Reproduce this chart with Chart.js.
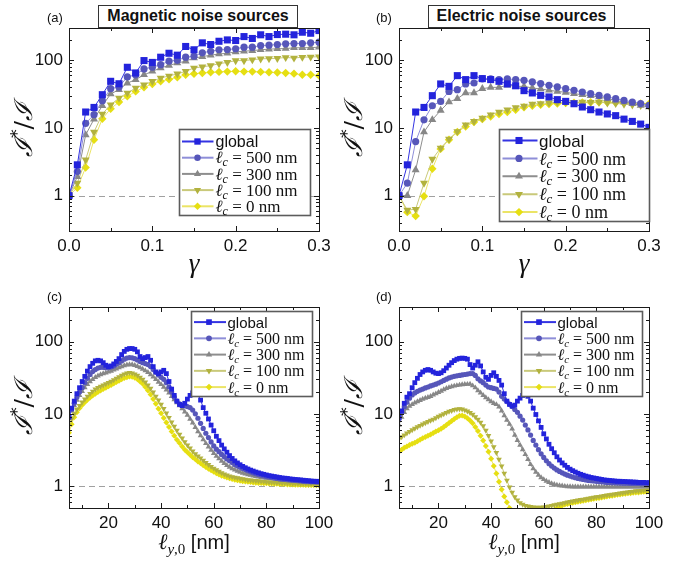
<!DOCTYPE html>
<html>
<head>
<meta charset="utf-8">
<script src="https://cdn.jsdelivr.net/npm/chart.js@4.4.0/dist/chart.umd.min.js"></script>
<style>
  body { margin:0; background:#fff; }
  #wrap { position:relative; width:691px; height:561px; overflow:hidden; background:#fff;
          font-family:'Liberation Sans', Arial, sans-serif; color:#111; }
  canvas { position:absolute; }
  .tag { position:absolute; font-size:13px; line-height:15px; }
  .head { position:absolute; top:5px; height:23px; box-sizing:border-box; border:1.5px solid #333;
          background:#fff; font-weight:bold; font-size:16px; line-height:20px; text-align:center; white-space:nowrap; }
</style>
</head>
<body>
<div id="wrap">
  <canvas id="pa" width="340" height="280" style="left:0;top:0"></canvas>
  <canvas id="pb" width="340" height="280" style="left:330px;top:0"></canvas>
  <canvas id="pc" width="340" height="281" style="left:0;top:280px"></canvas>
  <canvas id="pd" width="340" height="281" style="left:330px;top:280px"></canvas>
  <div class="tag" style="left:47px;top:10px">(a)</div>
  <div class="tag" style="left:376px;top:10px">(b)</div>
  <div class="tag" style="left:47px;top:289px">(c)</div>
  <div class="tag" style="left:376px;top:289px">(d)</div>
  <div class="head" style="left:98px;width:200px">Magnetic noise sources</div>
  <div class="head" style="left:428px;width:187px">Electric noise sources</div>
</div>
<script>
// ---- data ----
const legendLabels = ['global', '500 nm', '300 nm', '100 nm', '0 nm'];

const gammaX = [0, 0.01, 0.02, 0.03, 0.04, 0.05, 0.06, 0.07, 0.08, 0.09, 0.10,
  0.11, 0.12, 0.13, 0.14, 0.15, 0.16, 0.17, 0.18, 0.19, 0.20,
  0.21, 0.22, 0.23, 0.24, 0.25, 0.26, 0.27, 0.28, 0.29, 0.30];

// (a) magnetic, vs gamma
const aGlobal = [1, 2.85, 17.2, 20.1, 31, 48.9, 45, 78.8, 65, 99, 93, 111, 127, 119, 160, 143, 181, 171, 191, 200, 196, 224, 210, 238, 224, 240, 243, 238, 260, 251, 275];
const a500 = [1, 2.27, 11.7, 15.7, 25.3, 38, 40.4, 56.8, 61, 74.6, 79, 86, 97, 100, 111, 115, 129, 136, 143, 144, 148, 156, 156, 165, 167, 171, 175, 177, 177, 181, 185];
const a300 = [1, 1.91, 7.9, 13.5, 21.3, 31.8, 36.8, 46, 51.8, 61, 68.7, 77, 84, 91, 97, 108, 113, 119, 124, 127, 133, 136, 139, 143, 146, 148, 149, 153, 153, 154, 156];
const a100 = [1, 1.53, 3.38, 8.7, 16.1, 22, 27.7, 32.9, 39, 43.6, 48.9, 54.8, 58.7, 62.9, 68.7, 77, 80, 83.5, 89, 93, 99, 99, 102, 105, 106, 107, 110, 108, 111, 112, 113];
const a0 = [1, 1.31, 2.6, 6.7, 13.7, 19.2, 24.2, 29.3, 34.7, 39.8, 44.7, 48.9, 52.3, 56, 61, 63, 65, 66.4, 67.3, 68, 68.7, 68, 68, 67.3, 66.4, 66, 65, 63.5, 61, 61, 59.3];

// (b) electric, vs gamma
const bGlobal = [1, 2.85, 17.2, 20.1, 30, 44.7, 41.2, 59.3, 51.8, 59.3, 53.6, 51.8, 48.9, 44.7, 42, 35.6, 32.9, 30.3, 28.7, 26.2, 24.7, 22.8, 20.4, 18.6, 17.2, 16.1, 15.2, 13.5, 12.5, 11.4, 10.2];
const b500 = [1, 1.53, 6.3, 13.2, 21.3, 24.7, 34.7, 36.8, 44.7, 46.2, 53, 53, 51.8, 53, 51.8, 50.6, 47.9, 45.2, 42.7, 40.4, 38, 36, 34, 32.1, 30.3, 28.7, 27.1, 25.5, 24.2, 22.9, 21.5];
const b300 = [1, 1.0, 2.4, 8.7, 13.2, 18.2, 24.2, 27.1, 32.9, 32.9, 38, 39.8, 39.8, 42.7, 41.2, 41.2, 39, 37.7, 36, 34.7, 33.6, 32.1, 31, 30, 28.7, 27.1, 25.5, 24.2, 22.9, 21.5, 20.4];
const b100 = [1, 0.61, 0.63, 1.53, 3.46, 5.04, 6.85, 8.87, 11.1, 12.5, 14, 15.7, 17.2, 18.6, 20.1, 21, 22.5, 23, 23.5, 24, 24, 24, 24.2, 24, 24, 23.5, 23, 22.5, 22, 21.5, 21];
const b0 = [1, 0.57, 0.5, 0.98, 2.49, 4.9, 6.7, 8.7, 10.5, 12.2, 13.5, 14.8, 16.1, 17.2, 18.6, 20.2, 21.3, 22, 22.6, 23, 23.4, 23.6, 23.8, 24, 24, 24, 23.8, 23.5, 23.2, 23, 22.7];

const ellX = [5, 6, 7, 8, 9, 10, 11, 12, 13, 14,
  15, 16, 17, 18, 19, 20, 21, 22, 23, 24,
  25, 26, 27, 28, 29, 30, 31, 32, 33, 34,
  35, 36, 37, 38, 39, 40, 41, 42, 43, 44,
  45, 46, 47, 48, 49, 50, 51, 52, 53, 54,
  55, 56, 57, 58, 59, 60, 61, 62, 63, 64,
  65, 66, 67, 68, 69, 70, 71, 72, 73, 74,
  75, 76, 77, 78, 79, 80, 81, 82, 83, 84,
  85, 86, 87, 88, 89, 90, 91, 92, 93, 94,
  95, 96, 97, 98, 99, 100];

// (c) magnetic, vs l_y0
const cGlobal = [9, 12, 15, 19, 23, 28, 33, 39, 45, 50,
  54, 55, 54, 51, 47, 45, 46, 49, 53, 58,
  66, 73, 78, 80, 80, 78, 72, 62, 58, 60,
  62, 55, 45, 38, 36, 38, 40, 36, 28, 22,
  18, 15, 13.5, 13, 14, 16, 18, 19.5, 20, 18.5,
  15.5, 12.2, 10.2, 8.5, 7, 5.85, 4.9, 4.27, 3.7, 3.28,
  2.95, 2.65, 2.42, 2.24, 2.1, 1.98, 1.88, 1.8, 1.73, 1.67,
  1.62, 1.57, 1.53, 1.49, 1.46, 1.43, 1.4, 1.38, 1.36, 1.34,
  1.32, 1.3, 1.29, 1.28, 1.26, 1.25, 1.24, 1.23, 1.22, 1.21,
  1.2, 1.19, 1.18, 1.17, 1.17, 1.16];
const c500 = [9, 11.5, 14, 17, 20, 23, 27, 31, 35, 38.5,
  41, 43, 44, 44, 43.5, 43.5, 44.5, 46, 48.5, 51,
  54, 57, 59, 60, 59.5, 58, 55.5, 53, 51, 49.5,
  48, 45, 41, 37.5, 34.5, 32, 30, 27, 23.5, 20,
  17, 15, 13.8, 13.2, 12.9, 12.6, 12.2, 11.3, 10, 8.7,
  7.4, 6.3, 5.4, 4.7, 4.1, 3.6, 3.25, 3.0, 2.75, 2.55,
  2.38, 2.25, 2.12, 2.0, 1.91, 1.83, 1.76, 1.7, 1.64, 1.58,
  1.53, 1.49, 1.45, 1.42, 1.39, 1.36, 1.34, 1.32, 1.3, 1.28,
  1.26, 1.25, 1.24, 1.23, 1.22, 1.21, 1.2, 1.19, 1.18, 1.17,
  1.16, 1.16, 1.15, 1.15, 1.14, 1.14];
const c300 = [9, 11, 13, 15.5, 18, 20.5, 23, 25.5, 28, 30,
  32, 33.5, 35, 36, 37, 38, 39, 40.5, 42, 43.5,
  45, 46.5, 47.5, 48, 48, 47, 45.5, 43.5, 41.5, 39.5,
  37.5, 35, 32.5, 30, 27.5, 25.5, 23.5, 21.5, 19.5, 17.5,
  15.8, 14.3, 13, 11.8, 10.7, 9.6, 8.5, 7.5, 6.5, 5.7,
  5.0, 4.4, 3.9, 3.5, 3.15, 2.85, 2.6, 2.4, 2.22, 2.07,
  1.95, 1.84, 1.75, 1.68, 1.62, 1.57, 1.52, 1.48, 1.45, 1.42,
  1.39, 1.37, 1.35, 1.33, 1.31, 1.3, 1.28, 1.27, 1.26, 1.25,
  1.24, 1.23, 1.22, 1.21, 1.2, 1.2, 1.19, 1.18, 1.18, 1.17,
  1.16, 1.16, 1.15, 1.15, 1.14, 1.14];
const c100 = [7, 8.5, 10, 11.5, 13, 14.5, 16, 17.5, 19, 20.5,
  22, 23, 24, 25, 26, 27, 28, 29.5, 31, 32.5,
  34, 35.5, 36.5, 37, 36.5, 35.5, 34, 32, 30, 27.5,
  25, 22.5, 20, 17.5, 15.5, 13.5, 11.8, 10.2, 8.9, 7.7,
  6.7, 5.9, 5.2, 4.6, 4.1, 3.7, 3.35, 3.05, 2.8, 2.6,
  2.45, 2.27, 2.12, 1.98, 1.87, 1.77, 1.68, 1.6, 1.53, 1.47,
  1.42, 1.38, 1.35, 1.32, 1.3, 1.28, 1.26, 1.24, 1.22, 1.21,
  1.2, 1.19, 1.18, 1.17, 1.16, 1.15, 1.14, 1.14, 1.13, 1.12,
  1.12, 1.11, 1.11, 1.1, 1.1, 1.09, 1.09, 1.09, 1.08, 1.08,
  1.08, 1.07, 1.07, 1.07, 1.06, 1.06];
const c0 = [5.5, 7.2, 9, 10.5, 12, 13.3, 14.5, 15.7, 16.8, 18,
  19, 20, 21, 22, 23, 24, 25, 26.2, 27.5, 28.8,
  30, 31.2, 32.2, 32.8, 32.5, 31.5, 30, 28, 26, 23.5,
  21, 18.5, 16, 13.8, 11.8, 10.2, 8.8, 7.6, 6.6, 5.7,
  5.0, 4.4, 3.95, 3.55, 3.2, 2.95, 2.72, 2.52, 2.35, 2.2,
  2.07, 1.95, 1.84, 1.74, 1.66, 1.58, 1.51, 1.45, 1.4, 1.36,
  1.32, 1.29, 1.26, 1.23, 1.21, 1.19, 1.17, 1.16, 1.15, 1.14,
  1.13, 1.12, 1.11, 1.11, 1.1, 1.1, 1.09, 1.09, 1.08, 1.08,
  1.07, 1.07, 1.07, 1.06, 1.06, 1.06, 1.05, 1.05, 1.05, 1.05,
  1.04, 1.04, 1.04, 1.04, 1.03, 1.03];

// (d) electric, vs l_y0
const dGlobal = [9, 11, 14, 17, 19, 23, 27, 31, 35, 38,
  40, 41, 40, 38, 36.5, 36, 37, 39.5, 43, 47,
  51, 54.5, 57, 58.5, 59, 58.5, 57, 48, 43, 47,
  52.5, 46, 38, 32, 30, 34, 37, 33, 29, 25,
  19, 15, 13.5, 12.8, 13.2, 15, 16.5, 18, 18.8, 17.5,
  15, 12, 9.8, 8, 6.5, 5.3, 4.5, 3.8, 3.3, 2.9,
  2.55, 2.3, 2.1, 1.95, 1.82, 1.72, 1.64, 1.57, 1.51, 1.46,
  1.42, 1.38, 1.35, 1.32, 1.3, 1.28, 1.26, 1.24, 1.22, 1.21,
  1.2, 1.19, 1.18, 1.17, 1.17, 1.16, 1.16, 1.15, 1.15, 1.14,
  1.14, 1.13, 1.13, 1.13, 1.12, 1.12];
const d500 = [8.5, 10.5, 12.5, 14.5, 16.5, 18.3, 19.5, 20.5, 21.3, 22,
  22.8, 23.5, 24.3, 25, 25.7, 26.7, 27.8, 29, 30.2, 31.4,
  32.3, 33, 33.6, 34, 34.5, 35, 35.5, 36, 36, 34,
  30.5, 28.5, 27, 25, 23.5, 23, 22.5, 22, 20, 17.5,
  16, 14.8, 13.7, 12.6, 11.5, 10.5, 9.3, 8.2, 7, 6,
  5.1, 4.3, 3.7, 3.2, 2.8, 2.5, 2.25, 2.05, 1.9, 1.78,
  1.68, 1.6, 1.53, 1.47, 1.42, 1.38, 1.34, 1.31, 1.28, 1.26,
  1.24, 1.22, 1.2, 1.19, 1.18, 1.17, 1.16, 1.15, 1.14, 1.13,
  1.13, 1.12, 1.12, 1.11, 1.11, 1.1, 1.1, 1.1, 1.09, 1.09,
  1.09, 1.09, 1.08, 1.08, 1.08, 1.08];
const d300 = [7, 9, 10.5, 11.8, 12.8, 13.5, 14.2, 14.8, 15.4, 16,
  16.5, 16.9, 17.5, 18.3, 19, 19.8, 20.7, 21.6, 22.5, 23.2,
  23.8, 24.3, 24.7, 25.1, 25.4, 25.6, 25.7, 25.8, 24.5, 23,
  21, 19.5, 18, 16.8, 15.8, 14.8, 14, 13.5, 12.5, 11,
  9.5, 8.2, 7.2, 6.2, 5.1, 4.3, 3.7, 3.2, 2.75, 2.35,
  2.0, 1.75, 1.57, 1.43, 1.32, 1.24, 1.18, 1.13, 1.09, 1.06,
  1.04, 1.02, 1.01, 1.0, 0.99, 0.99, 0.98, 0.98, 0.98, 0.98,
  0.98, 0.98, 0.98, 0.98, 0.98, 0.98, 0.98, 0.98, 0.98, 0.98,
  0.98, 0.98, 0.98, 0.98, 0.98, 0.98, 0.98, 0.98, 0.98, 0.98,
  0.98, 0.98, 0.98, 0.99, 0.99, 0.99];
const d100 = [4.5, 4.8, 5.1, 5.4, 5.7, 6.0, 6.3, 6.6, 6.9, 7.2,
  7.5, 7.8, 8.1, 8.4, 8.8, 9.2, 9.6, 10, 10.4, 10.8,
  11.1, 11.4, 11.6, 11.7, 11.6, 11.3, 10.9, 10.4, 9.8, 9.1,
  8.4, 7.6, 6.8, 5.9, 5.0, 4.2, 3.5, 2.9, 2.35, 1.9,
  1.5, 1.2, 0.97, 0.82, 0.71, 0.64, 0.59, 0.56, 0.54, 0.53,
  0.52, 0.515, 0.51, 0.51, 0.51, 0.515, 0.52, 0.53, 0.54, 0.55,
  0.56, 0.57, 0.58, 0.59, 0.6, 0.61, 0.62, 0.63, 0.64, 0.65,
  0.66, 0.67, 0.68, 0.69, 0.7, 0.71, 0.72, 0.73, 0.74, 0.75,
  0.76, 0.77, 0.78, 0.79, 0.8, 0.81, 0.82, 0.83, 0.84, 0.85,
  0.86, 0.86, 0.87, 0.88, 0.88, 0.89];
const d0 = [3.0, 3.2, 3.4, 3.55, 3.7, 3.85, 4.0, 4.2, 4.4, 4.6,
  4.8, 5.0, 5.2, 5.45, 5.7, 5.95, 6.25, 6.6, 7.0, 7.5,
  8.0, 8.5, 9.0, 9.4, 9.5, 9.2, 8.7, 8.1, 7.4, 6.6,
  5.8, 5.0, 4.3, 3.6, 3.0, 2.4, 1.9, 1.5, 1.15, 0.9,
  0.72, 0.6, 0.5, 0.44, 0.4, 0.37, 0.35, 0.34, 0.33, 0.33,
  0.33, 0.33, 0.34, 0.35, 0.36, 0.37, 0.39, 0.41, 0.44, 0.47,
  0.5, 0.52, 0.54, 0.56, 0.57, 0.58, 0.59, 0.6, 0.61, 0.62,
  0.63, 0.64, 0.65, 0.66, 0.67, 0.68, 0.69, 0.7, 0.71, 0.72,
  0.73, 0.74, 0.75, 0.76, 0.77, 0.78, 0.79, 0.8, 0.8, 0.81,
  0.82, 0.82, 0.83, 0.84, 0.84, 0.85];

// tick positions
const gammaMajor = [0, 0.1, 0.2, 0.3];
const gammaMinor = [0.05, 0.15, 0.25];
const ellMajor = [20, 40, 60, 80, 100];
const ellMinor = [10, 30, 50, 70, 90];
const yMajor = [1, 10, 100];
const yMinor = [0.3, 0.4, 0.5, 0.6, 0.7, 0.8, 0.9, 2, 3, 4, 5, 6, 7, 8, 9,
  20, 30, 40, 50, 60, 70, 80, 90, 200];

// ---- styles ----
const STY = [
  { ps: 'rect',     rot: 0,   pc: '#2323dc', lc: '#3434e2', rb: 5.0, rs: 3.4 },
  { ps: 'circle',   rot: 0,   pc: '#5656ba', lc: '#8e8ed8', rb: 3.6, rs: 2.6 },
  { ps: 'triangle', rot: 0,   pc: '#878787', lc: '#8e8e8e', rb: 4.6, rs: 3.3 },
  { ps: 'triangle', rot: 180, pc: '#b2b23e', lc: '#c9c97a', rb: 4.6, rs: 3.3 },
  { ps: 'rectRot',  rot: 0,   pc: '#e6df12', lc: '#ebe466', rb: 4.2, rs: 3.0 }
];
const SANS = "'Liberation Sans', Arial, sans-serif";

function mark(ctx, ps, rot, x, y, r, color) {
  ctx.fillStyle = color;
  ctx.beginPath();
  if (ps === 'rect') {
    const s = r * Math.SQRT1_2;
    ctx.rect(x - s, y - s, 2 * s, 2 * s);
  } else if (ps === 'circle') {
    ctx.arc(x, y, r, 0, Math.PI * 2);
  } else if (ps === 'rectRot') {
    ctx.moveTo(x, y - r); ctx.lineTo(x + r, y); ctx.lineTo(x, y + r); ctx.lineTo(x - r, y);
  } else {
    let a = rot * Math.PI / 180;
    for (let k = 0; k < 3; k++) {
      const px = x + Math.sin(a) * r, py = y - Math.cos(a) * r;
      k ? ctx.lineTo(px, py) : ctx.moveTo(px, py);
      a += 2 * Math.PI / 3;
    }
  }
  ctx.closePath();
  ctx.fill();
}

function drawRuns(ctx, runs, x, y, align) {
  let w = 0;
  runs.forEach(r => { ctx.font = r[1]; w += ctx.measureText(r[0]).width; });
  let cx = align === 'center' ? x - w / 2 : x;
  ctx.textAlign = 'left';
  ctx.textBaseline = 'alphabetic';
  runs.forEach(r => {
    ctx.font = r[1];
    ctx.fillText(r[0], cx, y + (r[2] || 0));
    cx += ctx.measureText(r[0]).width;
  });
}

const deco = {
  id: 'deco',
  beforeDatasetsDraw(chart, args, o) {
    const { ctx, chartArea: a, scales: { y } } = chart;
    const py = Math.round(y.getPixelForValue(1)) + 0.5;
    ctx.save();
    ctx.strokeStyle = '#a0a0a0';
    ctx.lineWidth = 1.2;
    ctx.setLineDash([6, 4]);
    ctx.beginPath(); ctx.moveTo(a.left, py); ctx.lineTo(a.right, py); ctx.stroke();
    ctx.restore();
  },
  afterDatasetsDraw(chart, args, o) {
    const { ctx, chartArea: a, scales: { x, y } } = chart;
    ctx.save();
    // frame
    ctx.strokeStyle = '#1a1a1a';
    ctx.lineWidth = 1;
    ctx.strokeRect(Math.round(a.left) + 0.5, Math.round(a.top) + 0.5,
      Math.round(a.right - a.left), Math.round(a.bottom - a.top));
    // inward ticks on all four sides
    ctx.beginPath();
    const xt = (vals, len) => vals.forEach(v => {
      const p = Math.round(x.getPixelForValue(v)) + 0.5;
      ctx.moveTo(p, a.bottom); ctx.lineTo(p, a.bottom - len);
      ctx.moveTo(p, a.top); ctx.lineTo(p, a.top + len);
    });
    const yt = (vals, len) => vals.filter(v => v > y.min && v < y.max).forEach(v => {
      const p = Math.round(y.getPixelForValue(v)) + 0.5;
      ctx.moveTo(a.left, p); ctx.lineTo(a.left + len, p);
      ctx.moveTo(a.right, p); ctx.lineTo(a.right - len, p);
    });
    xt(o.xMajor, 5); xt(o.xMinor, 3);
    yt(yMajor, 5); yt(yMinor, 3);
    ctx.stroke();

    // legend
    const lg = o.legend;
    const bx = Math.round(a.left + lg.x) + 0.5, by = Math.round(a.top + lg.y) + 0.5;
    ctx.fillStyle = '#fff';
    ctx.fillRect(bx, by, lg.w, lg.h);
    ctx.strokeStyle = '#5c5c5c';
    ctx.lineWidth = 1.6;
    ctx.strokeRect(bx, by, lg.w, lg.h);
    chart.data.datasets.forEach((ds, i) => {
      const yy = by + lg.row0 + i * lg.step;
      ctx.strokeStyle = ds.borderColor;
      ctx.lineWidth = 2;
      ctx.beginPath(); ctx.moveTo(bx + lg.l0, yy); ctx.lineTo(bx + lg.l1, yy); ctx.stroke();
      mark(ctx, ds.pointStyle, ds.pointRotation, bx + lg.m, yy, STY[i].rb * lg.ms, ds.pointBackgroundColor);
      ctx.fillStyle = '#111';
      const fs = lg.fs;
      const runs = i === 0
        ? [[legendLabels[0], fs + 'px ' + SANS, 0]]
        : [['\u2113', 'italic ' + (fs + 1) + "px 'DejaVu Serif', serif", 0],
           ['c', 'italic ' + (fs - 4) + "px 'Liberation Serif', serif", 3],
           [' = ' + legendLabels[i], (fs + 1) + "px 'Liberation Serif', serif", 0]];
      drawRuns(ctx, runs, bx + lg.t, yy + fs * 0.36, 'left');
    });

    // y axis title
    ctx.fillStyle = '#111';
    ctx.save();
    ctx.translate(a.left - 45, (a.top + a.bottom) / 2);
    ctx.rotate(-Math.PI / 2);
    drawRuns(ctx, [
      ['\u2110', "italic 25px 'DejaVu Serif', serif", 0],
      ['*', "17px 'DejaVu Serif', serif", -9],
      ['/', "25px 'DejaVu Serif', serif", 0],
      ['\u2110', "italic 25px 'DejaVu Serif', serif", 0]
    ], 0, 8, 'center');
    ctx.restore();

    // x axis title
    const cx = (a.left + a.right) / 2;
    if (o.xTitle === 'gamma') {
      drawRuns(ctx, [['\u03b3', "italic 27px 'Liberation Serif', serif", 0]], cx, o.xTitleY, 'center');
    } else {
      drawRuns(ctx, [
        ['\u2113', "italic 22px 'DejaVu Serif', serif", 0],
        ['y', "italic 15px 'Liberation Serif', serif", 5],
        [',0', "15px 'Liberation Serif', serif", 5],
        [' [nm]', '20px ' + SANS, 0]
      ], cx, o.xTitleY, 'center');
    }
    ctx.restore();
  }
};

function panel(id, xs, ys, o) {
  const big = o.big;
  const datasets = ys.map((arr, i) => ({
    label: legendLabels[i],
    data: arr.map((v, j) => ({ x: xs[j], y: v })),
    borderColor: STY[i].lc,
    backgroundColor: STY[i].pc,
    borderWidth: 1,
    pointStyle: STY[i].ps,
    pointRotation: STY[i].rot,
    pointRadius: big ? STY[i].rb : STY[i].rs,
    pointBackgroundColor: STY[i].pc,
    pointBorderColor: STY[i].pc,
    pointBorderWidth: 0,
    tension: 0,
    fill: false
  }));
  const tickFont = { family: SANS, size: 17 };
  new Chart(document.getElementById(id), {
    type: 'line',
    data: { datasets },
    options: {
      responsive: false,
      animation: false,
      devicePixelRatio: 1,
      layout: { padding: { left: 0, top: o.padTop, right: 21, bottom: 0 } },
      plugins: {
        legend: { display: false },
        tooltip: { enabled: false },
        deco: o.deco
      },
      scales: {
        x: {
          type: 'linear', min: o.xMin, max: o.xMax, bounds: 'data',
          grid: { display: false, drawTicks: false },
          border: { display: false },
          afterBuildTicks: s => { s.ticks = o.deco.xMajor.map(v => ({ value: v })); },
          afterFit: s => { s.height = o.xHeight; },
          ticks: { font: tickFont, color: '#111', padding: 5, maxRotation: 0, autoSkip: false,
                   callback: o.xFmt }
        },
        y: {
          type: 'logarithmic', min: o.yMin, max: 300, bounds: 'data',
          grid: { display: false, drawTicks: false },
          border: { display: false },
          afterBuildTicks: s => { s.ticks = yMajor.map(v => ({ value: v })); },
          afterFit: s => { s.width = 69; },
          ticks: { font: tickFont, color: '#111', padding: 6, autoSkip: false,
                   callback: v => String(v) }
        }
      }
    },
    plugins: [deco]
  });
}

const gFmt = v => Number(v).toFixed(1);
const lFmt = v => String(v);

panel('pa', gammaX, [aGlobal, a500, a300, a100, a0], {
  big: true, padTop: 28, xHeight: 49, xMin: 0, xMax: 0.3, yMin: 0.3, xFmt: gFmt,
  deco: { xMajor: gammaMajor, xMinor: gammaMinor, xTitle: 'gamma', xTitleY: 272,
          legend: { x: 110, y: 101, w: 131, h: 86, row0: 12, step: 16.2, l0: 2.5, l1: 34, m: 18, t: 36, fs: 16, ms: 0.9 } }
});
panel('pb', gammaX, [bGlobal, b500, b300, b100, b0], {
  big: true, padTop: 28, xHeight: 49, xMin: 0, xMax: 0.3, yMin: 0.3, xFmt: gFmt,
  deco: { xMajor: gammaMajor, xMinor: gammaMinor, xTitle: 'gamma', xTitleY: 272,
          legend: { x: 100, y: 101, w: 150, h: 92, row0: 11, step: 17.9, l0: 3, l1: 38, m: 19.5, t: 39.5, fs: 17, ms: 1.0 } }
});
panel('pc', ellX, [cGlobal, c500, c300, c100, c0], {
  big: false, padTop: 27, xHeight: 53, xMin: 5, xMax: 100, yMin: 0.5, xFmt: lFmt,
  deco: { xMajor: ellMajor, xMinor: ellMinor, xTitle: 'ell', xTitleY: 269,
          legend: { x: 122, y: 4, w: 121, h: 85, row0: 10.6, step: 16.25, l0: 2.5, l1: 34.5, m: 17.5, t: 36, fs: 15, ms: 0.8 } }
});
panel('pd', ellX, [dGlobal, d500, d300, d100, d0], {
  big: false, padTop: 27, xHeight: 53, xMin: 5, xMax: 100, yMin: 0.5, xFmt: lFmt,
  deco: { xMajor: ellMajor, xMinor: ellMinor, xTitle: 'ell', xTitleY: 269,
          legend: { x: 122, y: 4, w: 121, h: 85, row0: 10.6, step: 16.25, l0: 2.5, l1: 34.5, m: 17.5, t: 36, fs: 15, ms: 0.8 } }
});
</script>
</body>
</html>
